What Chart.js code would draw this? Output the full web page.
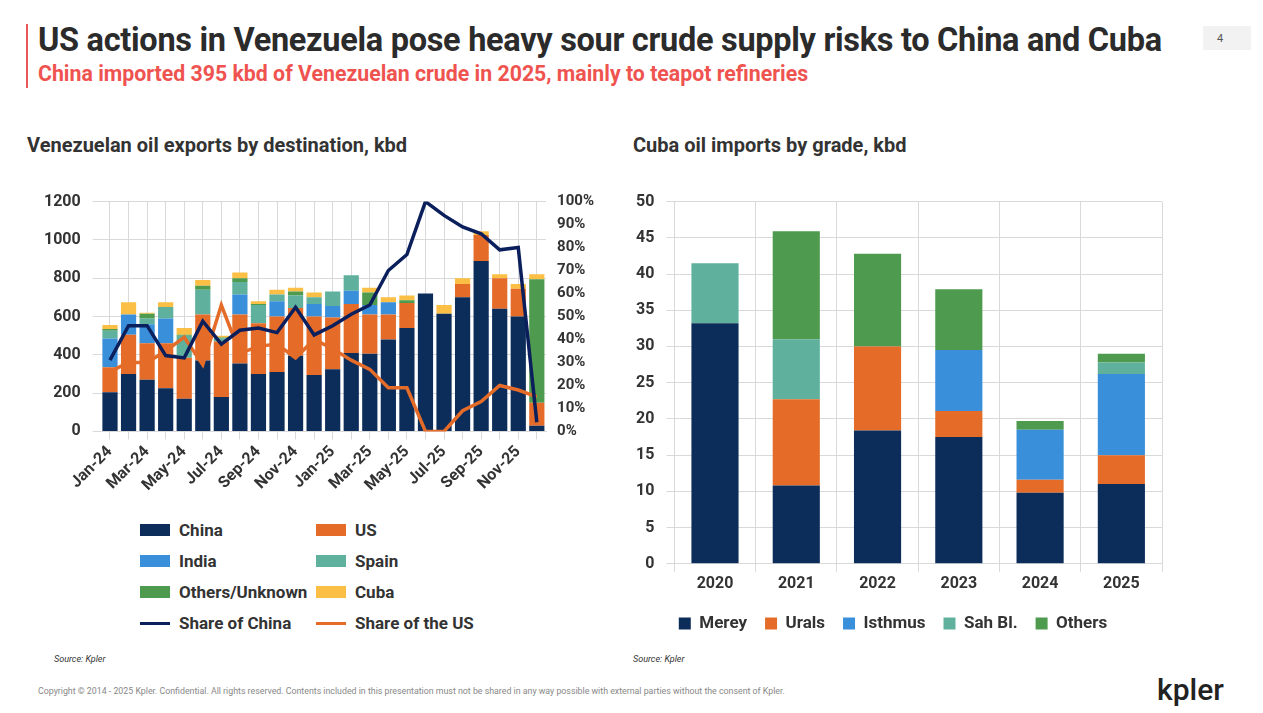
<!DOCTYPE html>
<html><head><meta charset="utf-8">
<script src="https://cdn.jsdelivr.net/npm/chart.js@4"></script>
<style>
body{margin:0;width:1263px;height:713px;background:#fff;font-family:Roboto,sans-serif;position:relative;overflow:hidden}
.bar{position:absolute;left:26px;top:24px;width:2px;height:64px;background:#e85a5a}
h1{position:absolute;left:38px;top:21px;margin:0;font-size:32.5px;font-weight:700;color:#2b2b2b;letter-spacing:-0.3px;white-space:nowrap}
h2{position:absolute;left:38px;top:61px;margin:0;font-size:21.3px;font-weight:700;color:#ef5350;white-space:nowrap}
.pg{position:absolute;left:1203px;top:26px;width:48px;height:24px;background:#f2f2f2;font-size:11px;color:#555;padding:6px 0 0 14px;box-sizing:border-box}
.ct{position:absolute;top:133px;font-size:20px;font-weight:700;color:#333}
#c1{position:absolute;left:32px;top:180px}
#c2{position:absolute;left:624px;top:180px}
.leg{position:absolute;left:140px;top:520px;display:grid;grid-template-columns:176px 180px;row-gap:11px;font-size:17px;font-weight:700;color:#333;white-space:nowrap}
.leg div{display:flex;align-items:center}
.leg i{display:inline-block;flex:none;width:30px;height:12px;margin-right:9px}
.leg i.l{height:3px}
.src{position:absolute;top:654px;font-size:9px;font-style:italic;color:#333}
.cp{position:absolute;left:38px;top:686px;font-size:8.8px;color:#888;white-space:nowrap}
.logo{position:absolute;left:1157px;top:672px;font-size:30px;font-weight:500;color:#222}
</style></head><body>
<div class="bar"></div>
<h1>US actions in Venezuela pose heavy sour crude supply risks to China and Cuba</h1>
<h2>China imported 395 kbd of Venezuelan crude in 2025, mainly to teapot refineries</h2>
<div class="pg">4</div>
<div class="ct" style="left:27px">Venezuelan oil exports by destination, kbd</div>
<div class="ct" style="left:633px">Cuba oil imports by grade, kbd</div>
<canvas id="c1" width="565" height="318"></canvas>
<canvas id="c2" width="550" height="462"></canvas>
<div class="leg">
<div><i style="background:#0c2d5a"></i>China</div><div><i style="background:#e46c28"></i>US</div>
<div><i style="background:#3a8fdb"></i>India</div><div><i style="background:#5fb09c"></i>Spain</div>
<div><i style="background:#4e9a4e"></i>Others/Unknown</div><div><i style="background:#fbbf45"></i>Cuba</div>
<div><i class="l" style="background:#0a1f5c"></i>Share of China</div><div><i class="l" style="background:#e46c28"></i>Share of the US</div>
</div>
<div class="src" style="left:54px">Source: Kpler</div>
<div class="src" style="left:633px">Source: Kpler</div>
<div class="cp">Copyright © 2014 - 2025 Kpler. Confidential. All rights reserved. Contents included in this presentation must not be shared in any way possible with external parties without the consent of Kpler.</div>
<div class="logo">kpler</div>
<script>
const months = ["Jan-24","Feb-24","Mar-24","Apr-24","May-24","Jun-24","Jul-24","Aug-24","Sep-24","Oct-24","Nov-24","Dec-24",
  "Jan-25","Feb-25","Mar-25","Apr-25","May-25","Jun-25","Jul-25","Aug-25","Sep-25","Oct-25","Nov-25","Dec-25"];
const china  = [205,300,270,225,170,370,180,355,300,310,395,295,325,410,405,480,540,720,615,700,890,640,600,30];
const us     = [130,205,190,235,215,240,290,255,265,290,250,305,270,255,205,130,130,0,0,70,135,160,145,120];
const india  = [150,105,100,130,0,0,0,105,0,80,0,65,60,70,50,65,0,0,0,0,0,0,0,0];
const spain  = [40,0,30,60,115,130,15,65,95,35,65,35,75,80,0,0,0,0,0,0,0,0,0,0];
const others = [10,0,25,0,5,20,5,20,5,0,20,0,0,0,65,0,15,0,0,0,0,0,0,645];
const cuba   = [20,65,5,25,35,30,10,30,15,25,20,25,0,0,25,25,25,0,45,30,20,20,25,25];
const shareChina = [31,46,46,33,32,48,38,44,45,43,54,42,46,51,55,70,77,100,94,89,86,79,80,4];
const shareUS    = [26,30,30,35,41,29,55,34,37,38,32,40,36,31,27,19,19,0,0,9,13,20,18,15];

const years = ["2020","2021","2022","2023","2024","2025"];
const merey   = [33.2,10.8,18.4,17.5,9.8,11];
const urals   = [0,11.9,11.6,3.6,1.8,4];
const isthmus = [0,0,0,8.4,6.9,11.2];
const sahBl   = [8.3,8.3,0,0,0,1.6];
const othersC = [0,14.9,12.8,8.4,1.2,1.2];

const tickFont = {family:"Roboto", size:16, weight:"bold"};
const grid = {color:"#d9d9d9"};
const plain = v => String(v);
Chart.defaults.color = "#333";
Chart.defaults.animation = false;

const bar = (label, data, color) => ({type:"bar", label, data, backgroundColor:color, stack:"s", yAxisID:"y", order:2, barPercentage:0.82, categoryPercentage:1});
new Chart(document.getElementById("c1"), {
  data: {labels: months, datasets: [
    {type:"line", label:"Share of China", data:shareChina, borderColor:"#0a1f5c", borderWidth:3.5, pointRadius:0, yAxisID:"y1", order:0},
    {type:"line", label:"Share of the US", data:shareUS, borderColor:"#e46c28", borderWidth:3.5, pointRadius:0, yAxisID:"y1", order:1},
    bar("China", china, "#0c2d5a"), bar("US", us, "#e46c28"), bar("India", india, "#3a8fdb"),
    bar("Spain", spain, "#5fb09c"), bar("Others/Unknown", others, "#4e9a4e"), bar("Cuba", cuba, "#fbbf45")
  ]},
  options: {responsive:false, layout:{padding:{left:0,right:0,top:8}},
    plugins:{legend:{display:false}, tooltip:{enabled:false}},
    scales:{
      x:{stacked:true, grid:{...grid, offset:false}, border:{color:"#d9d9d9"},
         ticks:{font:tickFont, maxRotation:45, minRotation:45, autoSkip:false, callback:(v,i)=>i%2===0?months[i]:""}},
      y:{stacked:true, min:0, max:1200, grid:grid, border:{display:false}, ticks:{font:tickFont, stepSize:200, padding:12, callback:plain}},
      y1:{position:"right", min:0, max:100, grid:{display:false}, border:{display:false}, ticks:{font:{...tickFont,size:15}, stepSize:10, callback:v=>v+"%"}}
    }}
});

const cb = (label, data, color) => ({label, data, backgroundColor:color, barPercentage:0.58, categoryPercentage:1});
new Chart(document.getElementById("c2"), {
  type:"bar",
  data:{labels:years, datasets:[cb("Merey",merey,"#0c2d5a"), cb("Urals",urals,"#e46c28"), cb("Isthmus",isthmus,"#3a8fdb"),
    cb("Sah Bl.",sahBl,"#5fb09c"), cb("Others",othersC,"#4e9a4e")]},
  options:{responsive:false, layout:{padding:{top:8,right:12}},
    plugins:{legend:{position:"bottom", labels:{font:{family:"Roboto",size:17,weight:"bold"}, boxWidth:12, boxHeight:12, padding:18}}, tooltip:{enabled:false}},
    scales:{
      x:{stacked:true, grid:grid, border:{color:"#d9d9d9"}, ticks:{font:tickFont}},
      y:{stacked:true, min:0, max:50, grid:grid, border:{display:false}, ticks:{font:tickFont, stepSize:5, padding:12, callback:plain}}
    }}
});
</script>
</body></html>
